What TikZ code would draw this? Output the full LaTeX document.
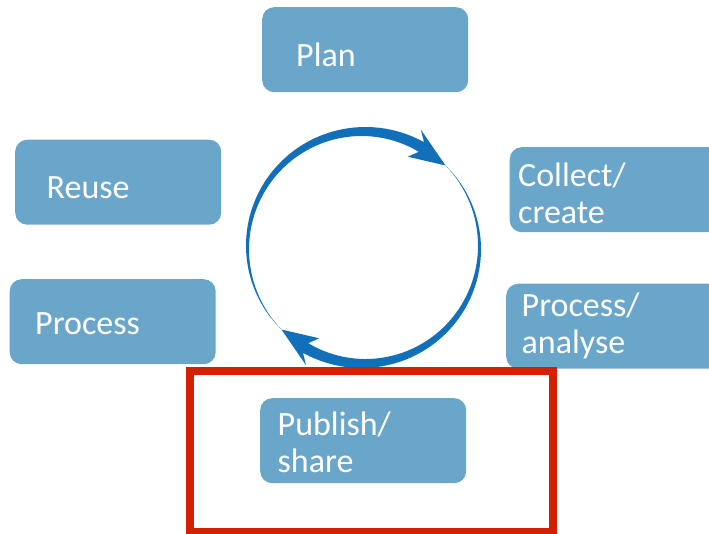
\documentclass[tikz,border=0pt]{standalone}
\usepackage{fontspec}
\setmainfont{Carlito}
\definecolor{stagefill}{RGB}{106,166,202}
\definecolor{ringblue}{RGB}{17,112,185}
\definecolor{markred}{RGB}{212,32,0}
\tikzset{
  stage/.style={fill=stagefill, rounded corners=12pt, anchor=north west, inner sep=0pt,
    minimum width=206pt, minimum height=85pt},
  stagetext/.style={text=white, anchor=base west, inner sep=0pt, align=left,
    font=\fontsize{34}{37.5}\selectfont},
  ring/.style={fill=ringblue},
  highlight/.style={draw=markred, line width=8pt}
}

\begin{document}
\begin{tikzpicture}[x=1pt,y=-1pt]
  \useasboundingbox (0,0) rectangle (709,533);
  \clip (0,0) rectangle (709,533);

  % stages of the cycle
  \node[stage] (plan) at (262,7) {};
  \node[stage, minimum width=220pt] (collect) at (509.5,147) {};
  \node[stage, minimum width=220pt] (analyse) at (506,283.5) {};
  \node[stage] (publish) at (260,398) {};
  \node[stage] (process) at (9.5,279) {};
  \node[stage] (reuse) at (15,139.5) {};

  % base west sits on the last line
  \node[stagetext] (plan-t) at (296,66.7) {Plan};
  \node[stagetext] (collect-t) at (518,223.5) {Collect/\\create};
  \node[stagetext] (analyse-t) at (521.5,353.8) {Process/\\analyse};
  \node[stagetext] (publish-t) at (277.5,472.5) {Publish/\\share};
  \node[stagetext] (process-t) at (35,334) {Process};
  \node[stagetext] (reuse-t) at (46.5,198) {Reuse};

  % the two tapered arrows round the cycle
  \foreach \r in {0,180}
  {
    \begin{scope}[shift={(363.5,247.5)}, yscale=-1, rotate=\r]
      \fill[ring] plot[domain=0:1, samples=60] ({225-165*\x}:{116+5.5*\x})
        -- (64:131) -- (45:116) -- (64:101)
        -- plot[domain=1:0, samples=60] ({225-165*\x}:{116-5.5*\x}) -- cycle;
    \end{scope}
  }

  % highlighted stage
  \draw[highlight] (190,371) rectangle (552.5,532);
\end{tikzpicture}
\end{document}
